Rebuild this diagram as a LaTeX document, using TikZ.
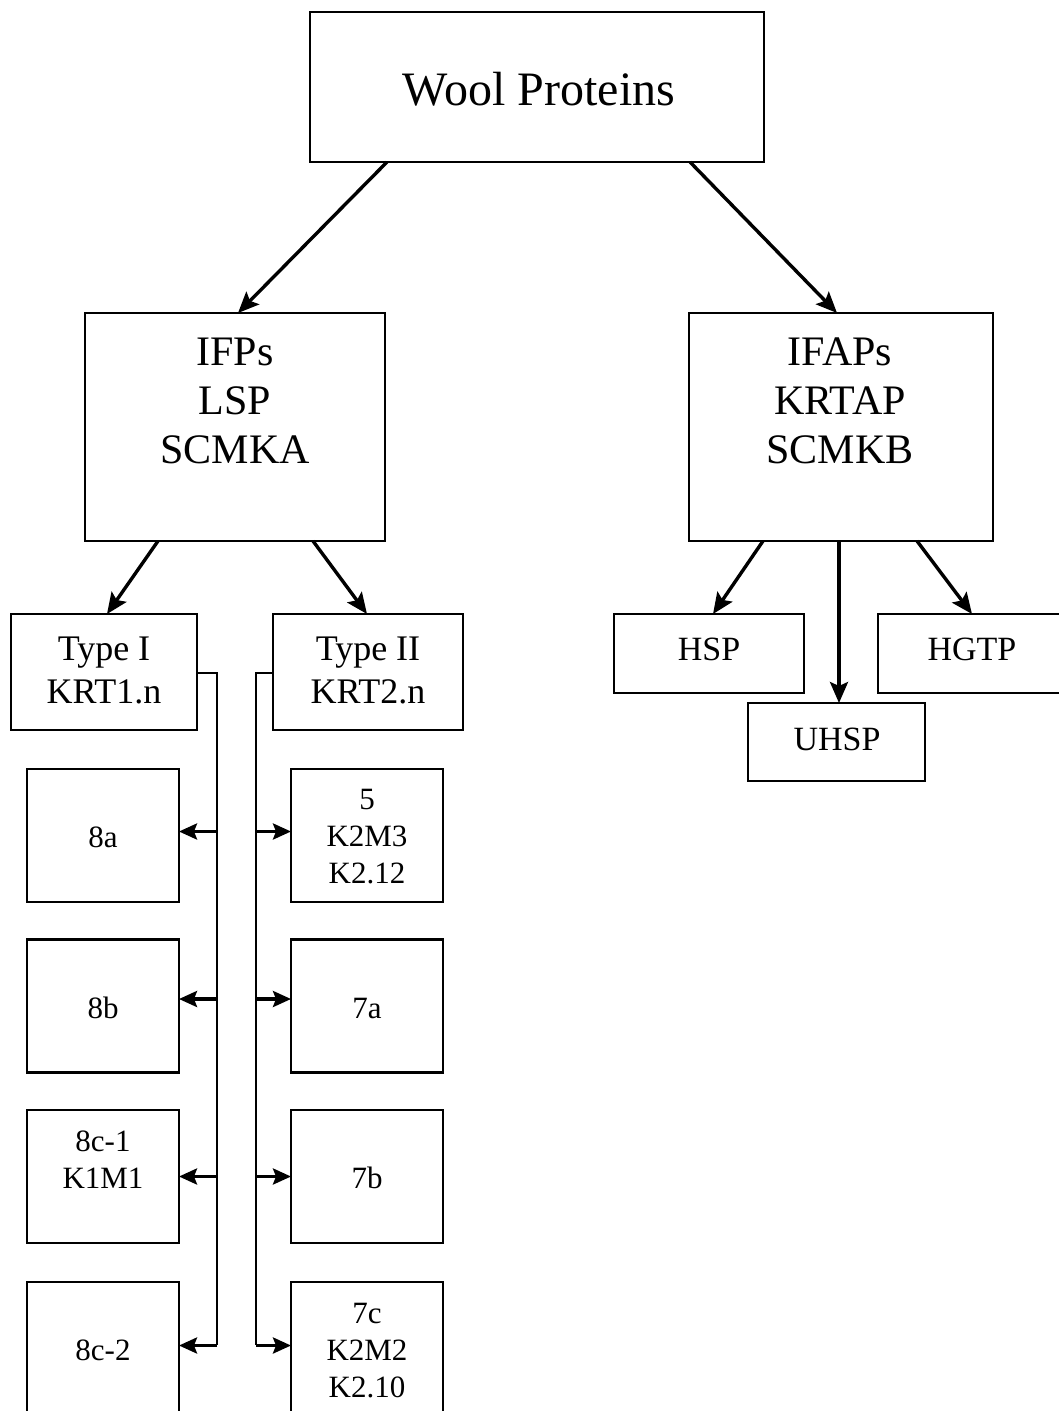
\documentclass[tikz,border=0pt]{standalone}
\usepackage{fontspec}
\setmainfont{Liberation Serif}
\usetikzlibrary{arrows.meta}

\tikzset{
  box/.style={draw, line width=2.4pt, inner sep=0pt, outer sep=0pt},
  arr/.style={line width=3.4pt, -{Stealth[length=21pt, width=18pt, inset=4pt]}},
  bus/.style={line width=2.4pt},
  tip/.style={line width=3.4pt, -{Stealth[length=18pt, width=16pt, inset=3pt]}},
  lbl/.style={inner sep=0pt, outer sep=0pt, anchor=base, align=center},
  titletext/.style={lbl, font=\fontsize{48}{56}\selectfont},
  classtext/.style={lbl, font=\fontsize{42}{49}\selectfont},
  typetext/.style={lbl, font=\fontsize{36}{43}\selectfont},
  famtext/.style={lbl, font=\fontsize{34}{40}\selectfont},
  keratext/.style={lbl, font=\fontsize{31}{37}\selectfont},
}

\begin{document}
\begin{tikzpicture}[x=1pt, y=-1pt]
  % page frame
  \fill[white] (0,0) rectangle (1059,1411);
  \useasboundingbox (0,0) rectangle (1059,1411);
  \clip (0,0) rectangle (1059,1411);

  % top level
  \node[box, minimum width=454pt, minimum height=150pt] (wool) at (537,87) {};
  \node[titletext] (woolT) at (539,105) {Wool Proteins};

  % second level (multi-line labels are placed by their last baseline)
  \node[box, minimum width=300pt, minimum height=228pt] (ifps) at (235,427) {};
  \node[classtext] (ifpsT) at (235,463) {IFPs\\LSP\\SCMKA};
  \node[box, minimum width=304pt, minimum height=228pt] (ifaps) at (841,427) {};
  \node[classtext] (ifapsT) at (840,463) {IFAPs\\KRTAP\\SCMKB};

  % keratin types
  \node[box, minimum width=186pt, minimum height=116pt] (type1) at (104,672) {};
  \node[typetext] (type1T) at (104,703) {Type I\\KRT1.n};
  \node[box, minimum width=190pt, minimum height=116pt] (type2) at (368,672) {};
  \node[typetext] (type2T) at (368,703) {Type II\\KRT2.n};

  % associated protein families
  \node[box, minimum width=190pt, minimum height=79pt] (hsp) at (709,653.5) {};
  \node[famtext] (hspT) at (709,660) {HSP};
  \node[box, minimum width=190pt, minimum height=79pt] (hgtp) at (973,653.5) {};
  \node[famtext] (hgtpT) at (972,660) {HGTP};
  \node[box, minimum width=177pt, minimum height=78pt] (uhsp) at (836.5,742) {};
  \node[famtext] (uhspT) at (837,750) {UHSP};

  % type I keratins
  \node[box, minimum width=152pt, minimum height=133pt] (k8a)  at (103,835.5) {};
  \node[keratext] (k8aT) at (103,847) {8a};
  \node[box, minimum width=152pt, minimum height=133pt] (k8b)  at (103,1006) {};
  \node[keratext] (k8bT) at (103,1018) {8b};
  \node[box, minimum width=152pt, minimum height=133pt] (k8c1) at (103,1176.5) {};
  \node[keratext] (k8c1T) at (103,1188) {8c-1\\K1M1};
  \node[box, minimum width=152pt, minimum height=133pt] (k8c2) at (103,1348.5) {};
  \node[keratext] (k8c2T) at (103,1360) {8c-2};

  % type II keratins
  \node[box, minimum width=152pt, minimum height=133pt] (k5)  at (367,835.5) {};
  \node[keratext] (k5T) at (367,883) {5\\K2M3\\K2.12};
  \node[box, minimum width=152pt, minimum height=133pt] (k7a) at (367,1006) {};
  \node[keratext] (k7aT) at (367,1018) {7a};
  \node[box, minimum width=152pt, minimum height=133pt] (k7b) at (367,1176.5) {};
  \node[keratext] (k7bT) at (367,1188) {7b};
  \node[box, minimum width=152pt, minimum height=133pt] (k7c) at (367,1348.5) {};
  \node[keratext] (k7cT) at (367,1397) {7c\\K2M2\\K2.10};

  % hierarchy arrows
  \draw[arr] ([xshift=-150pt]wool.south) -- ([xshift=3pt]ifps.north);
  \draw[arr] ([xshift=153pt]wool.south) -- ([xshift=-4pt]ifaps.north);
  \draw[arr] ([xshift=-77pt]ifps.south) -- ([xshift=3pt]type1.north);
  \draw[arr] ([xshift=78pt]ifps.south) -- ([xshift=-1pt]type2.north);
  \draw[arr] ([xshift=-78pt]ifaps.south) -- ([xshift=4pt]hsp.north);
  \draw[arr] ([xshift=-2pt]ifaps.south) -- ([xshift=2.5pt]uhsp.north);
  \draw[arr] ([xshift=76pt]ifaps.south) -- ([xshift=-1pt]hgtp.north);

  % type I distribution bus
  \coordinate (busLtop) at (217,673);
  \coordinate (busLend) at (217,1345);
  \draw[bus] ([yshift=-1pt]type1.east) -- (busLtop) -- (busLend);
  \draw[tip] ([yshift=4pt]k8a.east -| busLtop) -- ([yshift=4pt]k8a.east);
  \draw[tip] ([yshift=7pt]k8b.east -| busLtop) -- ([yshift=7pt]k8b.east);
  \draw[tip] (k8c1.east -| busLtop) -- (k8c1.east);
  \draw[tip] ([yshift=3pt]k8c2.east -| busLtop) -- ([yshift=3pt]k8c2.east);

  % type II distribution bus
  \coordinate (busRtop) at (256,673);
  \coordinate (busRend) at (256,1345);
  \draw[bus] ([yshift=-1pt]type2.west) -- (busRtop) -- (busRend);
  \draw[tip] ([yshift=4pt]k5.west -| busRtop) -- ([yshift=4pt]k5.west);
  \draw[tip] ([yshift=7pt]k7a.west -| busRtop) -- ([yshift=7pt]k7a.west);
  \draw[tip] (k7b.west -| busRtop) -- (k7b.west);
  \draw[tip] ([yshift=3pt]k7c.west -| busRtop) -- ([yshift=3pt]k7c.west);
\end{tikzpicture}
\end{document}
